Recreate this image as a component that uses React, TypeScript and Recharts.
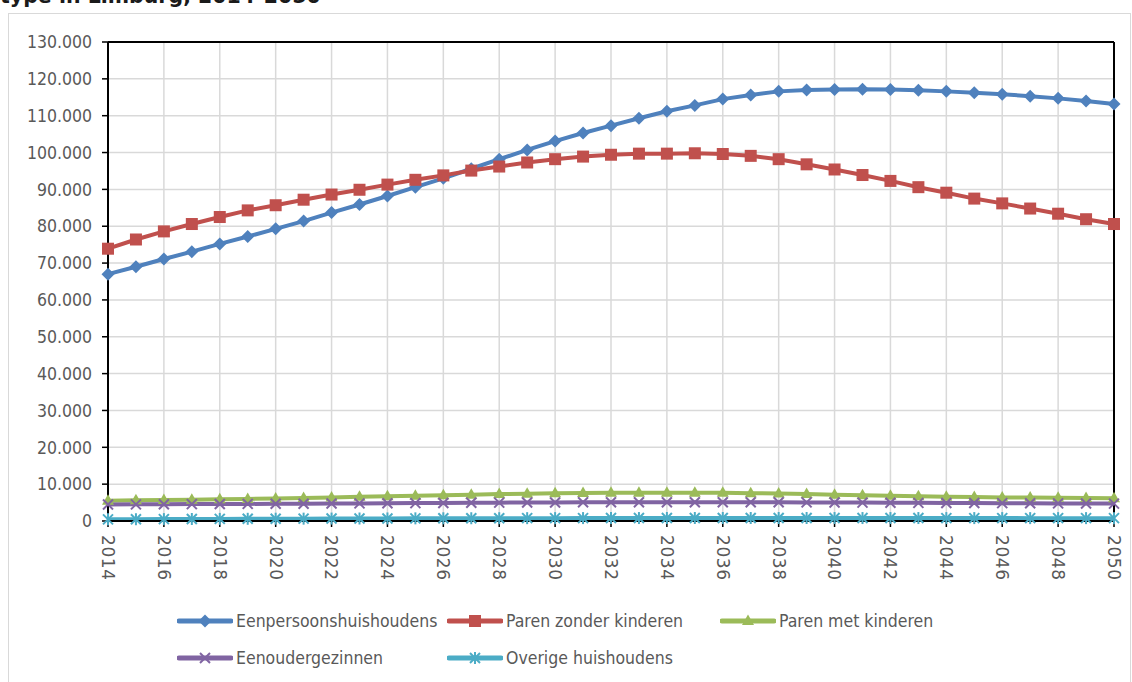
import React from 'react';
import { LineChart, Line, XAxis, YAxis, CartesianGrid, ReferenceLine } from 'recharts';

const years = [
  '2014', '2015', '2016', '2017', '2018', '2019', '2020', '2021', '2022', '2023',
  '2024', '2025', '2026', '2027', '2028', '2029', '2030', '2031', '2032', '2033',
  '2034', '2035', '2036', '2037', '2038', '2039', '2040', '2041', '2042', '2043',
  '2044', '2045', '2046', '2047', '2048', '2049', '2050',
];

const eenpersoons = [
  67000, 69000, 71100, 73100, 75200, 77200, 79300, 81400, 83700, 85900,
  88200, 90600, 93000, 95600, 98200, 100700, 103100, 105300, 107300, 109300,
  111200, 112800, 114500, 115600, 116600, 117000, 117100, 117200, 117100, 116900,
  116600, 116200, 115800, 115300, 114700, 114000, 113200,
];

const parenZonder = [
  73900, 76400, 78600, 80600, 82500, 84300, 85700, 87200, 88600, 89900,
  91300, 92600, 93800, 95100, 96200, 97300, 98200, 98900, 99400, 99700,
  99700, 99800, 99600, 99100, 98200, 96800, 95400, 93900, 92300, 90600,
  89100, 87500, 86200, 84800, 83400, 81900, 80600,
];

const parenMet = [
  5500, 5600, 5700, 5800, 5900, 6000, 6100, 6250, 6400, 6550,
  6700, 6850, 7000, 7150, 7300, 7400, 7500, 7600, 7650, 7700,
  7700, 7700, 7650, 7550, 7450, 7300, 7150, 7000, 6850, 6700,
  6600, 6500, 6400, 6350, 6300, 6250, 6200,
];

const eenouder = [
  4500, 4520, 4550, 4580, 4610, 4640, 4670, 4700, 4740, 4780,
  4820, 4860, 4900, 4940, 4980, 5010, 5040, 5070, 5090, 5100,
  5110, 5110, 5100, 5090, 5070, 5050, 5020, 4990, 4960, 4930,
  4900, 4870, 4840, 4810, 4780, 4750, 4720,
];

const overige = [
  450, 480, 510, 540, 570, 600, 620, 640, 660, 680,
  700, 720, 740, 750, 760, 770, 780, 790, 800, 800,
  810, 810, 810, 810, 810, 810, 800, 800, 800, 800,
  790, 790, 790, 780, 780, 780, 770,
];

const yTicks = [0, 10000, 20000, 30000, 40000, 50000, 60000, 70000, 80000, 90000, 100000, 110000, 120000, 130000];

const series = [
  { key: 'een', name: 'Eenpersoonshuishoudens', color: '#4F81BD', shape: 'diamond', values: eenpersoons },
  { key: 'zonder', name: 'Paren zonder kinderen', color: '#C0504D', shape: 'square', values: parenZonder },
  { key: 'met', name: 'Paren met kinderen', color: '#9BBB59', shape: 'triangle', values: parenMet },
  { key: 'eenouder', name: 'Eenoudergezinnen', color: '#8064A2', shape: 'cross', values: eenouder },
  { key: 'overig', name: 'Overige huishoudens', color: '#4BACC6', shape: 'star', values: overige },
];

const data = years.map((year, i) => {
  const row: Record<string, string | number> = { year };
  series.forEach((s) => {
    row[s.key] = s.values[i];
  });
  return row;
});

const FONT = "'DejaVu Sans Condensed', 'DejaVu Sans', sans-serif";

function Marker({ shape, cx, cy, color }: { shape: string; cx: number; cy: number; color: string }) {
  if (shape === 'diamond') {
    const r = 6.5;
    return <polygon points={`${cx},${cy - r} ${cx + r},${cy} ${cx},${cy + r} ${cx - r},${cy}`} fill={color} />;
  }
  if (shape === 'square') {
    return <rect x={cx - 6} y={cy - 6} width={12} height={12} fill={color} />;
  }
  if (shape === 'triangle') {
    return <polygon points={`${cx},${cy - 6.5} ${cx + 6},${cy + 4} ${cx - 6},${cy + 4}`} fill={color} />;
  }
  if (shape === 'cross') {
    const r = 5;
    return (
      <g stroke={color} strokeWidth={2}>
        <line x1={cx - r} y1={cy - r} x2={cx + r} y2={cy + r} />
        <line x1={cx - r} y1={cy + r} x2={cx + r} y2={cy - r} />
      </g>
    );
  }
  const r = 5;
  return (
    <g stroke={color} strokeWidth={2}>
      <line x1={cx - r} y1={cy - r} x2={cx + r} y2={cy + r} />
      <line x1={cx - r} y1={cy + r} x2={cx + r} y2={cy - r} />
      <line x1={cx} y1={cy - r - 1} x2={cx} y2={cy + r + 1} />
    </g>
  );
}

const formatThousands = (v: number) => (v === 0 ? '0' : v.toLocaleString('de-DE'));

function YearTick(props: any) {
  const { x, y, payload } = props;
  return (
    <text
      transform={`translate(${x},${y}) rotate(90)`}
      dy="0.36em"
      textAnchor="start"
      fill="#595959"
      fontSize={17}
      letterSpacing={0.6}
      fontFamily="'DejaVu Sans', sans-serif"
    >
      {payload.value}
    </text>
  );
}

function LegendItem({ s, left, top }: { s: (typeof series)[number]; left: number; top: number }) {
  return (
    <div style={{ position: 'absolute', left, top, display: 'flex', alignItems: 'center', height: 20 }}>
      <svg width={56} height={20}>
        <line x1={2} y1={10} x2={54} y2={10} stroke={s.color} strokeWidth={5} strokeLinecap="round" />
        <Marker shape={s.shape} cx={28} cy={10} color={s.color} />
      </svg>
      <span style={{ fontFamily: FONT, fontSize: 17.5, color: '#595959', marginLeft: 3, whiteSpace: 'nowrap' }}>
        {s.name}
      </span>
    </div>
  );
}

export default function App() {
  return (
    <div style={{ position: 'absolute', left: 0, top: 0, width: 1132, height: 682, overflow: 'hidden', background: '#fff' }}>
      <div
        style={{
          position: 'absolute',
          left: 0,
          top: -14,
          fontFamily: "'DejaVu Sans', sans-serif",
          fontWeight: 'bold',
          fontSize: 20.5,
          lineHeight: '20.5px',
          color: '#1a1a1a',
          whiteSpace: 'nowrap',
        }}
      >
        type in Limburg, 2014-2050
      </div>
      <div style={{ position: 'absolute', left: 8, top: 13, width: 1121, height: 720, border: '1px solid #d9d9d9' }} />
      <div style={{ position: 'absolute', left: 0, top: 0 }}>
        <LineChart width={1132} height={682} data={data} margin={{ top: 42, right: 18, bottom: 101, left: 20 }}>
          <CartesianGrid stroke="#d9d9d9" strokeWidth={1.5} />
          <XAxis
            dataKey="year"
            interval={1}
            height={60}
            tickSize={6}
            tickMargin={8}
            tick={<YearTick />}
            axisLine={{ stroke: '#000', strokeWidth: 2 }}
            tickLine={{ stroke: '#000', strokeWidth: 1.5 }}
          />
          <YAxis
            width={88}
            domain={[0, 130000]}
            ticks={yTicks}
            interval={0}
            tickFormatter={formatThousands}
            tickSize={6}
            tickMargin={10}
            tick={{ fill: '#595959', fontSize: 17.5, fontFamily: FONT }}
            axisLine={{ stroke: '#000', strokeWidth: 2 }}
            tickLine={{ stroke: '#000', strokeWidth: 1.5 }}
          />
          <ReferenceLine y={130000} stroke="#000" strokeWidth={2} />
          <ReferenceLine x="2050" stroke="#000" strokeWidth={2} />
          {series.map((s) => (
            <Line
              key={s.key}
              dataKey={s.key}
              name={s.name}
              type="linear"
              stroke={s.color}
              strokeWidth={4}
              isAnimationActive={false}
              dot={(p: any) => <Marker key={`${s.key}-${p.index}`} shape={s.shape} cx={p.cx} cy={p.cy} color={s.color} />}
              activeDot={false}
            />
          ))}
        </LineChart>
      </div>
      <LegendItem s={series[0]} left={177} top={611} />
      <LegendItem s={series[1]} left={447} top={611} />
      <LegendItem s={series[2]} left={720} top={611} />
      <LegendItem s={series[3]} left={177} top={648} />
      <LegendItem s={series[4]} left={447} top={648} />
    </div>
  );
}
